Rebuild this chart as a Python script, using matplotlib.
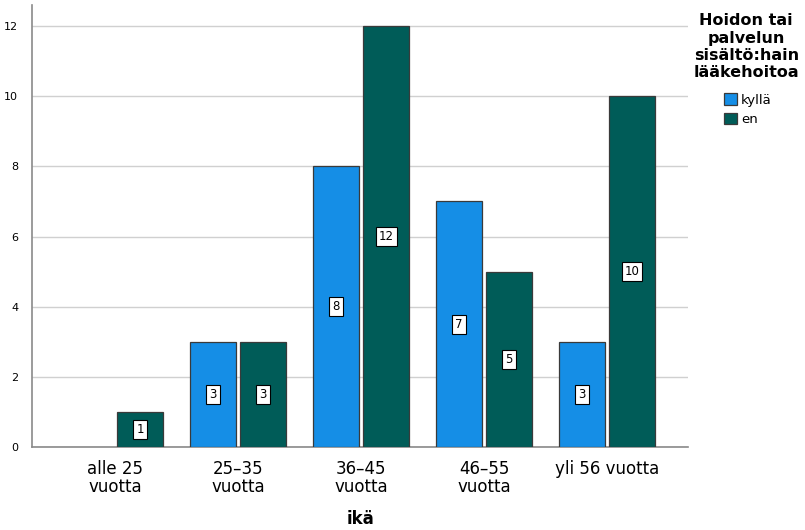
import numpy as np
import matplotlib.pyplot as plt

# age groups and counts per answer
age_groups = ["alle 25\nvuotta", "25\u201335\nvuotta", "36\u201345\nvuotta",
              "46\u201355\nvuotta", "yli 56 vuotta"]
kylla = [0, 3, 8, 7, 3]
en = [1, 3, 12, 5, 10]
yticks = [0, 2, 4, 6, 8, 10, 12]

blue = "#158ee6"
teal = "#005c58"
edge = "#3a3a3a"

fig = plt.figure(figsize=(8.05, 5.3), dpi=100)
ax = fig.add_axes([0.0398, 0.1566, 0.8152, 0.834])

x = np.arange(len(age_groups))
w = 0.374
off = 0.203


def add_bars(xs, vals, color):
    xs = np.asarray(xs)
    vals = np.asarray(vals)
    keep = vals > 0
    bars = ax.bar(xs[keep], vals[keep], w, color=color, edgecolor=edge,
                  linewidth=0.9, zorder=3)
    for b, v in zip(bars, vals[keep]):
        ax.text(b.get_x() + b.get_width() / 2, v / 2, str(v), ha="center", va="center",
                fontsize=8.5, zorder=4,
                bbox=dict(boxstyle="square,pad=0.25", fc="white", ec="black", lw=0.8))
    return bars


b1 = add_bars(x - off, kylla, blue)
b2 = add_bars(x + off, en, teal)

ax.set_xlim(-0.675, 4.66)
ax.set_ylim(0, 12.6)
ax.set_yticks(yticks)
ax.set_yticklabels([str(t) for t in yticks], fontsize=8)
ax.set_xticks(x)
ax.set_xticklabels(age_groups, fontsize=12, linespacing=1.05)
ax.tick_params(axis="both", length=0)
ax.tick_params(axis="x", pad=9)
ax.tick_params(axis="y", pad=10)
ax.grid(axis="y", color="#d0d0d0", lw=1, zorder=0)
for s in ["top", "right"]:
    ax.spines[s].set_visible(False)
for s in ["left", "bottom"]:
    ax.spines[s].set_color("#8a8a8a")
    ax.spines[s].set_linewidth(1.2)

ax.set_xlabel("ikä", fontsize=12, fontweight="bold", labelpad=10)

fig.text(0.927, 0.975, "Hoidon tai\npalvelun\nsisältö:hain\nlääkehoitoa",
         ha="center", va="top", fontsize=11.5, fontweight="bold",
         multialignment="center", linespacing=1.2)
leg = fig.legend([b1, b2], ["kyllä", "en"], loc="upper left",
                 bbox_to_anchor=(0.899, 0.824), frameon=False, fontsize=9.5,
                 handlelength=1.0, handleheight=1.0, handletextpad=0.3,
                 labelspacing=0.45, borderpad=0, borderaxespad=0)

fig.savefig("out.png", dpi=100)
